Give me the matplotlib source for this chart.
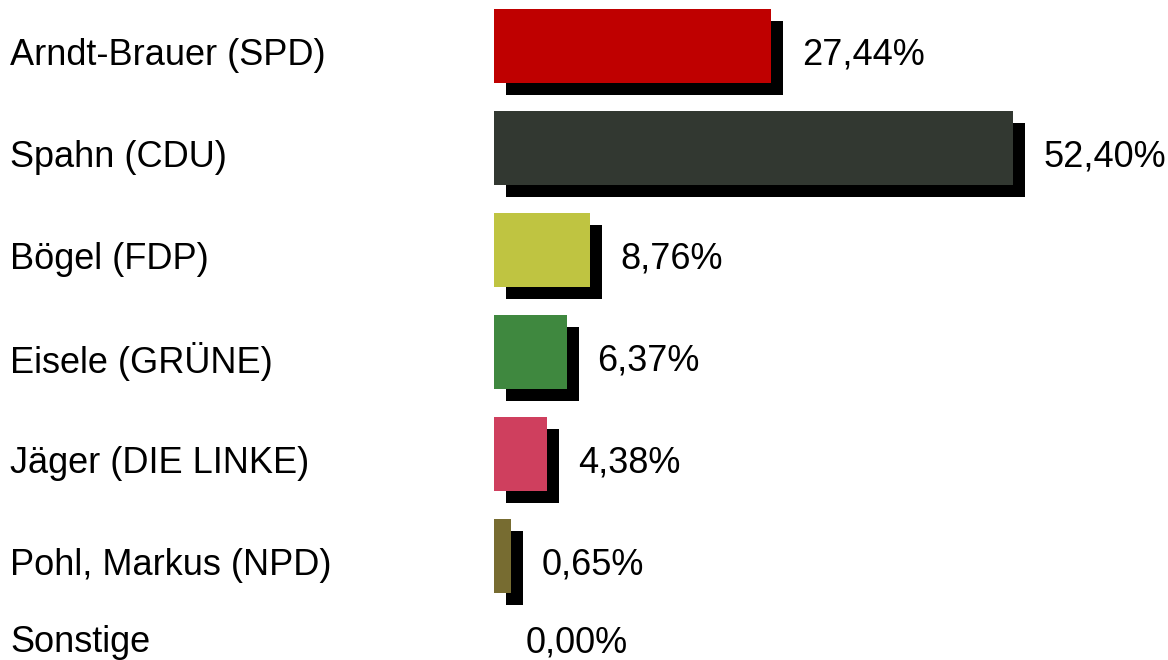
import matplotlib.pyplot as plt
import matplotlib.patheffects as pe

kandidaten = ["Arndt-Brauer (SPD)", "Spahn (CDU)", "Bögel (FDP)", "Eisele (GRÜNE)",
              "Jäger (DIE LINKE)", "Pohl, Markus (NPD)", "Sonstige"]
anteile = [27.44, 52.40, 8.76, 6.37, 4.38, 0.65, 0.00]
farben = ["#bf0000", "#323831", "#bfc441", "#3f883f", "#cf3f5e", "#776c31", "#999999"]

# Zeilenpositionen (letzte Zeile etwas enger)
zeilen = [0, 1, 2, 3, 4, 5, 5.76]

plt.rcParams['font.family'] = ['Liberation Sans', 'DejaVu Sans']

fig = plt.figure(figsize=(11.68, 6.6), dpi=100)
ax = fig.add_axes([0, 0, 1, 1])
ax.set_xlim(-52.06, 68.35)
ax.set_ylim(6.02, -0.451)
ax.axis('off')

schatten = [pe.SimplePatchShadow(offset=(8.6, -8.6), shadow_rgbFace='black', alpha=1.0), pe.Normal()]
basis = -1.13

for name, wert, farbe, y in zip(kandidaten, anteile, farben, zeilen):
    if wert > 0:
        b = ax.barh(y, wert - basis, left=basis, height=0.725, color=farbe)
        for p in b:
            p.set_path_effects(schatten)
    txt_y = y + 0.09
    ax.text(10 / 1168, txt_y, name, transform=ax.get_yaxis_transform(),
            fontsize=26, va='center', ha='left')
    versatz = 22 if wert > 0 else 15
    ax.annotate(f"{wert:.2f}".replace('.', ',') + '%', xy=(wert, txt_y),
                xytext=(versatz, 0), textcoords='offset points',
                fontsize=26, va='center', ha='left')

fig.savefig('out.png', dpi=100)
